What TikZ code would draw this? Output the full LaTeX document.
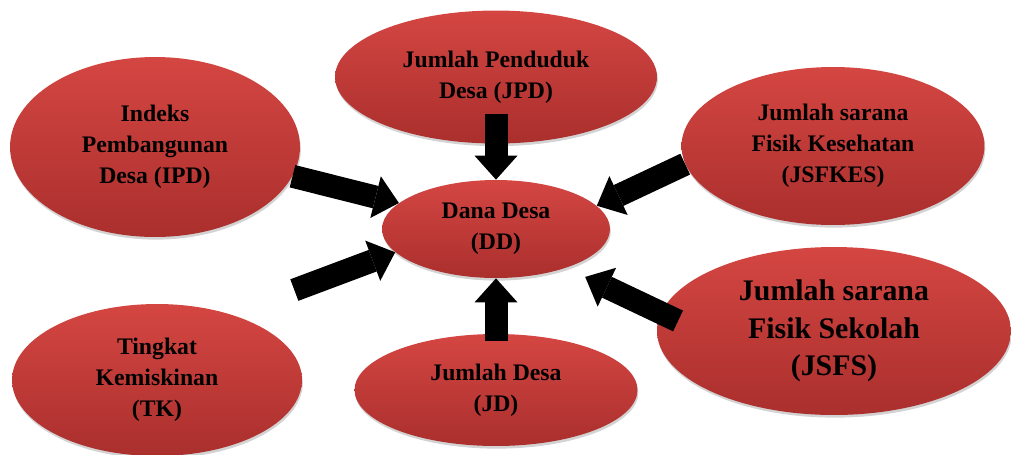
\documentclass[tikz,border=0pt]{standalone}
\usepackage{fontspec}
\setmainfont{Liberation Serif}
\usetikzlibrary{arrows.meta,shapes.geometric,shadows}
\definecolor{factortop}{RGB}{212,70,66}
\definecolor{factorbot}{RGB}{170,47,45}

\begin{document}
\begin{tikzpicture}[x=0.02cm,y=-0.02cm,font=\bfseries\fontsize{13.5}{17.6}\selectfont]
  \tikzstyle{factor}=[ellipse,inner sep=0pt,align=center,top color=factortop,bottom color=factorbot,
                      drop shadow={shadow xshift=0.5pt,shadow yshift=-1.5pt,opacity=0.35}]
  \tikzstyle{every edge}=[draw,black,line width=0.46cm,
                          -{Triangle[length=0.48cm,width=0.86cm,line width=0pt]}]
  \useasboundingbox (0,0) rectangle (1011,454);

  \node[factor,minimum width=4.56cm,minimum height=1.96cm] (DD)     at (496,229) {Dana Desa\\(DD)};
  \node[factor,minimum width=5.8cm, minimum height=3.6cm]  (IPD)    at (155,147) {Indeks\\Pembangunan\\Desa (IPD)};
  \node[factor,minimum width=6.44cm,minimum height=2.66cm] (JPD)    at (496,77)  {Jumlah Penduduk\\Desa (JPD)};
  \node[factor,minimum width=6.06cm,minimum height=3.16cm] (JSFKES) at (833,146) {Jumlah sarana\\Fisik Kesehatan\\(JSFKES)};
  \node[factor,minimum width=5.8cm, minimum height=3.04cm] (TK)     at (157,380) {Tingkat\\Kemiskinan\\(TK)};
  \node[factor,minimum width=5.66cm,minimum height=2.24cm] (JD)     at (496,390) {Jumlah Desa\\(JD)};
  \node[factor,minimum width=7.08cm,minimum height=3.36cm,
        font=\bfseries\fontsize{17}{21.5}\selectfont]      (JSFS)   at (834,331) {Jumlah sarana\\Fisik Sekolah\\(JSFS)};

  \path (IPD.-12)                  edge                                   (DD.165)
        (TK.42)                    edge [shorten <=1.37cm]                (DD.193)
        ([yshift=0.6cm]JPD.south)  edge                                   (DD.north)
        ([yshift=-0.14cm]JD.north) edge                                   (DD.south)
        (JSFKES.187)               edge                                   (DD.13)
        (JSFS.174)                 edge [shorten <=-0.38cm,shorten >=0.42cm] (DD.-29);
\end{tikzpicture}
\end{document}
